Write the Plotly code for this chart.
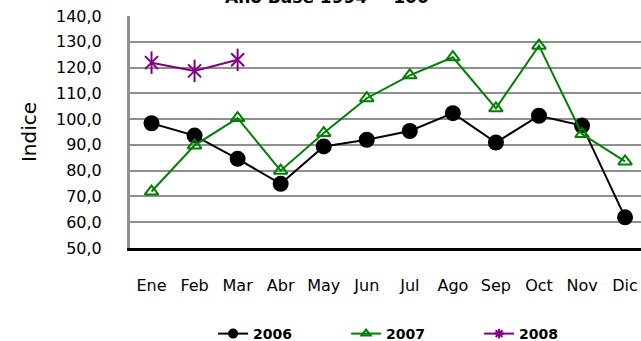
import plotly.graph_objects as go

# Monthly index values (base year 1994 = 100)
months = ["Ene", "Feb", "Mar", "Abr", "May", "Jun", "Jul", "Ago", "Sep", "Oct", "Nov", "Dic"]
idx_2006 = [98.4, 93.6, 84.6, 74.9, 89.4, 92.0, 95.4, 102.3, 90.9, 101.3, 97.5, 61.9]
idx_2007 = [71.9, 89.8, 100.4, 80.0, 94.6, 108.1, 117.0, 124.0, 104.2, 128.5, 94.2, 83.6]
idx_2008 = [121.9, 118.7, 123.0]

y_ticks = [50, 60, 70, 80, 90, 100, 110, 120, 130, 140]
y_tick_text = [f"{v:.1f}".replace(".", ",") for v in y_ticks]

FONT = "DejaVu Sans"
GREEN = "#008000"
PURPLE = "#800080"

fig = go.Figure()

# data series (legend entries are added separately with smaller symbols)
fig.add_trace(go.Scatter(
    x=months, y=idx_2006, mode="lines+markers", showlegend=False,
    line=dict(color="black", width=2),
    marker=dict(symbol="circle", size=16, color="black"),
))
fig.add_trace(go.Scatter(
    x=months, y=idx_2007, mode="lines+markers", showlegend=False,
    line=dict(color=GREEN, width=2),
    marker=dict(symbol="triangle-up-open", size=12, color=GREEN,
                line=dict(color=GREEN, width=2)),
))
fig.add_trace(go.Scatter(
    x=months[:len(idx_2008)], y=idx_2008, mode="lines+markers", showlegend=False,
    line=dict(color=PURPLE, width=2),
    marker=dict(symbol="x-thin-open", size=13, color=PURPLE,
                line=dict(color=PURPLE, width=2)),
))
# vertical stroke that completes the star marker
fig.add_trace(go.Scatter(
    x=months[:len(idx_2008)], y=idx_2008, mode="markers", showlegend=False,
    hoverinfo="skip",
    marker=dict(symbol="line-ns-open", size=16, color=PURPLE,
                line=dict(color=PURPLE, width=2)),
))

# legend-only entries
legend_items = [
    ("2006", "black", "circle"),
    ("2007", GREEN, "triangle-up-open"),
    ("2008", PURPLE, "asterisk-open"),
]
for name, color, symbol in legend_items:
    fig.add_trace(go.Scatter(
        x=[None], y=[None], name=name, mode="lines+markers",
        line=dict(color=color, width=2),
        marker=dict(symbol=symbol, size=8, color=color,
                    line=dict(color=color, width=2)),
    ))

fig.update_layout(
    width=641, height=341,
    margin=dict(l=130, r=0, t=16, b=93),
    paper_bgcolor="white", plot_bgcolor="white",
    font=dict(family=FONT, color="black"),
    showlegend=True,
    legend=dict(
        orientation="h", x=0.553, xanchor="center",
        yref="container", y=1 - 334 / 341, yanchor="middle",
        font=dict(family=FONT, size=14, weight="bold"),
        entrywidth=88, entrywidthmode="pixels",
    ),
    annotations=[dict(
        text="<b>Año Base 1994 = 100</b>", xref="paper", yref="paper",
        x=0.386, y=1.03, xanchor="center", yanchor="bottom", showarrow=False,
        font=dict(family=FONT, size=17, color="black"),
    )],
)

fig.update_xaxes(
    type="category", categoryorder="array", categoryarray=months,
    range=[-0.5, 11.37],
    showgrid=False, showline=True, linecolor="black", linewidth=3,
    ticks="outside", ticklen=21, tickcolor="rgba(0,0,0,0)",
    tickfont=dict(family=FONT, size=16),
)
fig.update_yaxes(
    range=[50, 140], tickvals=y_ticks, ticktext=y_tick_text,
    showgrid=True, gridcolor="#8f8f8f", gridwidth=2,
    showline=True, linecolor="#8f8f8f", linewidth=3,
    zeroline=False,
    ticks="outside", ticklen=22, tickcolor="rgba(0,0,0,0)",
    tickfont=dict(family=FONT, size=16),
    title=dict(text="Indice", font=dict(family=FONT, size=20), standoff=14),
)

fig.write_html("out.html")
